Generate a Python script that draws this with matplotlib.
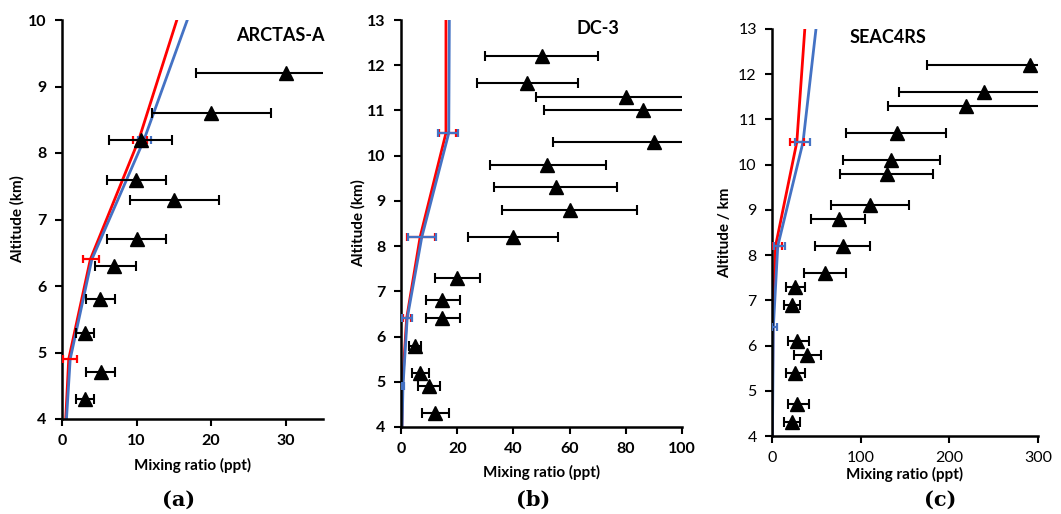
import matplotlib.pyplot as plt
import numpy as np

plt.rcParams['font.family'] = ['Lato', 'DejaVu Sans']

# ---- observations: altitude (km), mixing ratio (ppt), error bar ends
a_alt = [9.2, 8.6, 8.2, 7.6, 7.3, 6.7, 6.3, 5.8, 5.3, 4.7, 4.3]
a_val = [30, 20, 10.6, 9.9, 15, 10, 7.0, 5.1, 3.1, 5.2, 3.1]
a_lo = [18, 12.1, 6.3, 6.0, 9.1, 6.0, 4.4, 3.2, 1.9, 3.2, 1.9]
a_hi = [42, 28, 14.7, 14, 21.1, 14, 9.9, 7.1, 4.3, 7.1, 4.3]

b_alt = [12.2, 11.6, 11.3, 11.0, 10.3, 9.8, 9.3, 8.8, 8.2, 7.3, 6.8, 6.4, 5.8, 5.2, 4.9, 4.3]
b_val = [50, 45, 80, 86, 90, 52, 55, 60, 40, 20, 14.7, 14.7, 5, 6.8, 9.8, 12]
b_lo = [30, 27, 48, 51, 54, 31.5, 33, 36, 24, 12, 9, 9, 3, 4, 6, 7.4]
b_hi = [70, 63, 115, 120, 125, 73, 77, 84, 56, 28, 21, 21, 7, 9.8, 14, 17]

c_alt = [12.2, 11.6, 11.3, 10.7, 10.1, 9.8, 9.1, 8.8, 8.2, 7.6, 7.3, 6.9, 6.1, 5.8, 5.4, 4.7, 4.3]
c_val = [291, 239, 219, 141, 134, 130, 110, 75, 80, 60, 26, 22.5, 28, 39, 26, 28, 22.5]
c_lo = [175, 143, 131, 83, 80, 77, 66, 44, 48, 36, 16, 13, 18, 25, 16, 18, 13]
c_hi = [400, 340, 320, 196, 189, 182, 155, 105, 111, 84, 37, 32, 42, 55, 37, 42, 32]

# ---- model profiles (red, blue)
a_red_x = [0.5, 0.9, 3.8, 10.3, 15.4]
a_red_y = [4.0, 4.9, 6.4, 8.2, 10.0]
a_blue_x = [0.6, 1.1, 4.0, 11.0, 16.8]
a_blue_y = [4.0, 4.9, 6.4, 8.2, 10.0]

b_red_x = [0.3, 0.5, 2.0, 6.8, 16.0, 16.0]
b_red_y = [4.0, 4.9, 6.4, 8.2, 10.5, 13.0]
b_blue_x = [0.4, 0.7, 2.2, 7.4, 17.0, 17.2]
b_blue_y = [4.0, 4.9, 6.4, 8.2, 10.5, 13.0]

c_red_x = [0.3, 1.0, 4.0, 28, 37]
c_red_y = [4.0, 6.4, 8.2, 10.5, 13.0]
c_blue_x = [0.5, 1.5, 6.5, 35, 49.6]
c_blue_y = [4.0, 6.4, 8.2, 10.5, 13.0]

# ---- model error bars: altitude, centre, low, high
a_rbar = ([4.9, 6.4, 8.2], [0.9, 3.8, 10.3], [0.1, 2.8, 9.5], [2.0, 5.0, 11.4])
a_bbar = ([8.2], [11.0], [10.2], [11.9])
b_rbar = ([6.4, 8.2, 10.5], [2.0, 6.8, 16.0], [0.8, 2.2, 13.7], [3.5, 12.0, 19.4])
b_bbar = ([4.9, 6.4, 8.2, 10.5], [0.7, 2.2, 7.4, 17.0], [0.4, 0.3, 2.5, 13.3], [0.9, 3.9, 12.4, 20.4])
c_rbar = ([8.2, 10.5], [4.0, 28], [1, 20], [11, 36])
c_bbar = ([6.4, 8.2, 10.5], [1.5, 6.5, 35], [0.5, 2.5, 26], [6, 15, 43])

RED = '#ff0000'
BLUE = '#4472c4'

W, H = 1061, 514
fig = plt.figure(figsize=(W / 100, H / 100), dpi=100)


def box(l, t, r, b):
    return [l / W, 1 - b / H, (r - l) / W, (b - t) / H]


def bars(ax, spec, color):
    alt, mid, lo, hi = spec
    mid = np.array(mid)
    err = [mid - np.array(lo), np.array(hi) - mid]
    ax.errorbar(mid, alt, xerr=err, fmt='none', ecolor=color, elinewidth=1.6,
                capsize=3, capthick=1.6, zorder=3)


def panel(pos, alt, val, lo, hi, red, blue, rbar, bbar, xlim, ylim, xticks,
          title, tpos, ylab, tick_weight, letter, lpos, xl_y, yl_x):
    ax = fig.add_axes(pos)
    ax.plot(red[0], red[1], color=RED, lw=2, zorder=2)
    ax.plot(blue[0], blue[1], color=BLUE, lw=2, zorder=2)
    bars(ax, rbar, RED)
    bars(ax, bbar, BLUE)
    val = np.array(val)
    ax.errorbar(val, alt, xerr=[val - np.array(lo), np.array(hi) - val], fmt='^',
                color='black', ms=9.5, ecolor='black', elinewidth=1.5,
                capsize=3.5, capthick=1.5, zorder=4)
    ax.set_xlim(*xlim)
    ax.set_ylim(*ylim)
    ax.set_xticks(xticks)
    ax.set_yticks(np.arange(ylim[0], ylim[1] + 1))
    for s in ['top', 'right']:
        ax.spines[s].set_visible(False)
    for s in ['left', 'bottom']:
        ax.spines[s].set_linewidth(1.8)
    ax.tick_params(direction='out', length=5, width=1.5, labelsize=11.5, pad=6)
    for lab in ax.get_xticklabels() + ax.get_yticklabels():
        lab.set_fontweight(tick_weight)
    ax.text(tpos[0], tpos[1], title, transform=ax.transAxes, fontsize=13,
            fontweight='bold', ha='center', va='center')
    ax.set_xlabel('Mixing ratio (ppt)', fontsize=11, fontweight='bold',
                  va='center', ha='center')
    ax.set_ylabel(ylab, fontsize=11, fontweight='bold', va='center', ha='center')
    # label positions in axes fraction
    ax.xaxis.set_label_coords(0.5, xl_y)
    ax.yaxis.set_label_coords(yl_x, 0.5)
    fig.text(lpos[0] / W, 1 - lpos[1] / H, letter, fontsize=15, fontweight='bold',
             family='DejaVu Serif', ha='center', va='center')
    return ax


panel(box(62, 20, 323, 419), a_alt, a_val, a_lo, a_hi,
      (a_red_x, a_red_y), (a_blue_x, a_blue_y), a_rbar, a_bbar,
      (0, 35), (4, 10), [0, 10, 20, 30], 'ARCTAS-A', (0.835, 0.96),
      'Altitude (km)', 'bold', '(a)', (179, 500), (419 - 465) / 399, -0.169)

panel(box(401, 20, 682, 427), b_alt, b_val, b_lo, b_hi,
      (b_red_x, b_red_y), (b_blue_x, b_blue_y), b_rbar, b_bbar,
      (0, 100), (4, 13), [0, 20, 40, 60, 80, 100], 'DC-3', (0.7, 0.98),
      'Altitude (km)', 'bold', '(b)', (533, 500), (427 - 472) / 407, -0.153)

panel(box(772, 29, 1038, 436), c_alt, c_val, c_lo, c_hi,
      (c_red_x, c_red_y), (c_blue_x, c_blue_y), c_rbar, c_bbar,
      (0, 300), (4, 13), [0, 100, 200, 300], 'SEAC4RS', (0.435, 0.98),
      'Altitude / km', 'normal', '(c)', (940, 500), (436 - 474) / 407, -0.177)

fig.savefig('out.png', dpi=100)
